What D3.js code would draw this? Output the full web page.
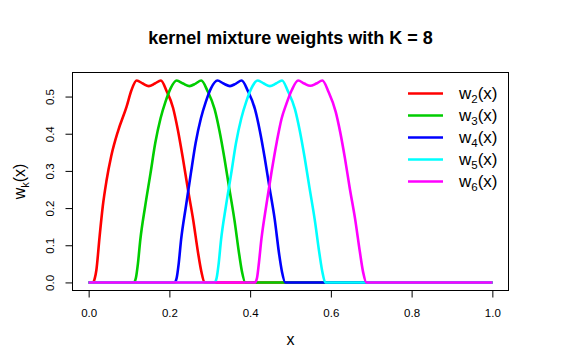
<!DOCTYPE html>
<html>
<head>
<meta charset="utf-8">
<script src="https://d3js.org/d3.v7.min.js"></script>
<style>
  body { margin: 0; background: #fff; }
  svg { display: block; font-family: "Liberation Sans", Arial, Helvetica, sans-serif; }
</style>
</head>
<body>
<svg id="chart"></svg>
<script>
// values
const xTicks = [0, 0.2, 0.4, 0.6, 0.8, 1.0];
const yTicks = [0, 0.1, 0.2, 0.3, 0.4, 0.5];
const seriesIndex = ["2", "3", "4", "5", "6"];

const w2x = [0, 0.011, 0.015, 0.019, 0.027, 0.035, 0.044, 0.056, 0.073, 0.094, 0.106, 0.119, 0.134, 0.149, 0.164, 0.179, 0.193, 0.209, 0.221, 0.234, 0.246, 0.259, 0.271, 0.279, 0.287, 1];
const w2y = [0, 0, 0.010, 0.032, 0.122, 0.205, 0.272, 0.340, 0.408, 0.473, 0.517, 0.543, 0.535, 0.528, 0.535, 0.543, 0.515, 0.470, 0.410, 0.330, 0.250, 0.168, 0.080, 0.030, 0, 0];

const w3x = [0, 0.112, 0.117, 0.122, 0.128, 0.140, 0.153, 0.165, 0.178, 0.190, 0.203, 0.218, 0.234, 0.250, 0.265, 0.279, 0.294, 0.312, 0.324, 0.336, 0.348, 0.361, 0.373, 0.380, 0.388, 1];
const w3y = [0, 0, 0.012, 0.050, 0.115, 0.205, 0.292, 0.375, 0.441, 0.485, 0.522, 0.543, 0.535, 0.528, 0.535, 0.543, 0.516, 0.466, 0.408, 0.336, 0.255, 0.169, 0.075, 0.028, 0, 0];

const w4x = [0, 0.213, 0.218, 0.223, 0.229, 0.241, 0.253, 0.265, 0.278, 0.290, 0.303, 0.319, 0.334, 0.350, 0.365, 0.379, 0.394, 0.412, 0.424, 0.436, 0.448, 0.461, 0.472, 0.479, 0.487, 1];
const w4y = [0, 0, 0.012, 0.050, 0.115, 0.205, 0.292, 0.375, 0.441, 0.485, 0.522, 0.543, 0.535, 0.528, 0.535, 0.543, 0.516, 0.466, 0.408, 0.336, 0.255, 0.169, 0.075, 0.028, 0, 0];

const w5x = [0, 0.312, 0.317, 0.322, 0.328, 0.340, 0.353, 0.365, 0.378, 0.390, 0.403, 0.419, 0.434, 0.449, 0.464, 0.479, 0.493, 0.511, 0.523, 0.535, 0.547, 0.560, 0.572, 0.579, 0.586, 1];
const w5y = [0, 0, 0.012, 0.050, 0.115, 0.205, 0.292, 0.375, 0.441, 0.485, 0.522, 0.543, 0.535, 0.528, 0.535, 0.543, 0.516, 0.466, 0.408, 0.336, 0.255, 0.169, 0.075, 0.028, 0, 0];

const w6x = [0, 0.412, 0.417, 0.421, 0.428, 0.440, 0.453, 0.466, 0.478, 0.490, 0.503, 0.519, 0.534, 0.549, 0.564, 0.579, 0.594, 0.612, 0.623, 0.635, 0.647, 0.660, 0.672, 0.680, 0.688, 1];
const w6y = [0, 0, 0.012, 0.045, 0.117, 0.207, 0.297, 0.378, 0.441, 0.481, 0.517, 0.543, 0.535, 0.529, 0.535, 0.543, 0.513, 0.459, 0.405, 0.333, 0.252, 0.171, 0.081, 0.027, 0, 0];

const width = 581,
      height = 363,
      box = {left: 72.5, top: 72.5, right: 508.5, bottom: 290.5};

const colors = ["#FF0000", "#00CD00", "#0000FF", "#00FFFF", "#FF00FF"];

var series = [[w2x, w2y], [w3x, w3y], [w4x, w4y], [w5x, w5y], [w6x, w6y]]
    .map(p => p[0].map((x, i) => ({x: x, y: p[1][i]})));

// R style axis ranges: data range extended by 4% on each side
var yMax = d3.max(series, s => d3.max(s, d => d.y));

var xScale = d3.scaleLinear()
    .domain([-0.04, 1.04])
    .range([box.left, box.right]);

var yScale = d3.scaleLinear()
    .domain([-0.04 * yMax, 1.04 * yMax])
    .range([box.bottom, box.top]);

var svg = d3.select("svg#chart")
    .attr("width", width)
    .attr("height", height);

svg.append("rect")
    .attr("width", width)
    .attr("height", height)
    .attr("fill", "#fff");

svg.append("text")
    .attr("x", (box.left + box.right) / 2)
    .attr("y", 43.5)
    .attr("text-anchor", "middle")
    .style("font-weight", "bold")
    .style("font-size", "18px")
    .text("kernel mixture weights with K = 8");

var line = d3.line()
    .x(d => xScale(d.x))
    .y(d => yScale(d.y))
    .curve(d3.curveMonotoneX);

svg.selectAll(".curve")
    .data(series)
    .enter()
  .append("path")
    .attr("class", "curve")
    .attr("d", line)
    .attr("fill", "none")
    .attr("stroke", (d, i) => colors[i])
    .attr("stroke-width", 2.6)
    .attr("stroke-linejoin", "round");

svg.append("rect")
    .attr("x", box.left)
    .attr("y", box.top)
    .attr("width", box.right - box.left)
    .attr("height", box.bottom - box.top)
    .attr("fill", "none")
    .attr("stroke", "#000")
    .attr("stroke-width", 1);

var xAxis = svg.append("g")
    .attr("transform", "translate(0," + box.bottom + ")")
    .call(d3.axisBottom(xScale)
        .tickValues(xTicks)
        .tickSize(7)
        .tickFormat(d3.format(".1f")));

var yAxis = svg.append("g")
    .attr("transform", "translate(" + box.left + ",0)")
    .call(d3.axisLeft(yScale)
        .tickValues(yTicks)
        .tickSize(7)
        .tickFormat(d3.format(".1f")));

[xAxis, yAxis].forEach(a => {
    a.attr("font-family", null).attr("font-size", null);
    a.select(".domain").remove();
    a.selectAll(".tick line").attr("stroke", "#000");
    a.selectAll(".tick text")
        .attr("fill", "#000")
        .style("font-size", "11.5px");
});

xAxis.selectAll(".tick text")
    .attr("y", 26.5)
    .attr("dy", 0);

yAxis.selectAll(".tick text")
    .attr("transform", "rotate(-90)")
    .attr("x", 0)
    .attr("y", -19)
    .attr("dy", 0)
    .attr("text-anchor", "middle");

svg.append("text")
    .attr("x", (box.left + box.right) / 2)
    .attr("y", 345)
    .attr("text-anchor", "middle")
    .style("font-size", "16px")
    .text("x");

var yLabel = svg.append("text")
    .attr("transform", "translate(25," + (box.top + box.bottom) / 2 + ")rotate(-90)")
    .attr("text-anchor", "middle")
    .style("font-size", "16px");
yLabel.append("tspan").text("w");
yLabel.append("tspan").attr("dy", 4).style("font-size", "11px").text("k");
yLabel.append("tspan").attr("dy", -4).text("(x)");

var legend = svg.selectAll(".legend")
    .data(seriesIndex)
    .enter()
  .append("g")
    .attr("class", "legend")
    .attr("transform", (d, i) => "translate(0," + (93.5 + 22 * i) + ")");

legend.append("line")
    .attr("x1", 408)
    .attr("x2", 443)
    .attr("stroke", (d, i) => colors[i])
    .attr("stroke-width", 2.6);

var legendText = legend.append("text")
    .attr("x", 459)
    .attr("y", 5.5)
    .style("font-size", "17px");
legendText.append("tspan").text("w");
legendText.append("tspan").attr("dy", 3.5).style("font-size", "11.5px").text(d => d);
legendText.append("tspan").attr("dy", -3.5).text("(x)");
</script>
</body>
</html>
